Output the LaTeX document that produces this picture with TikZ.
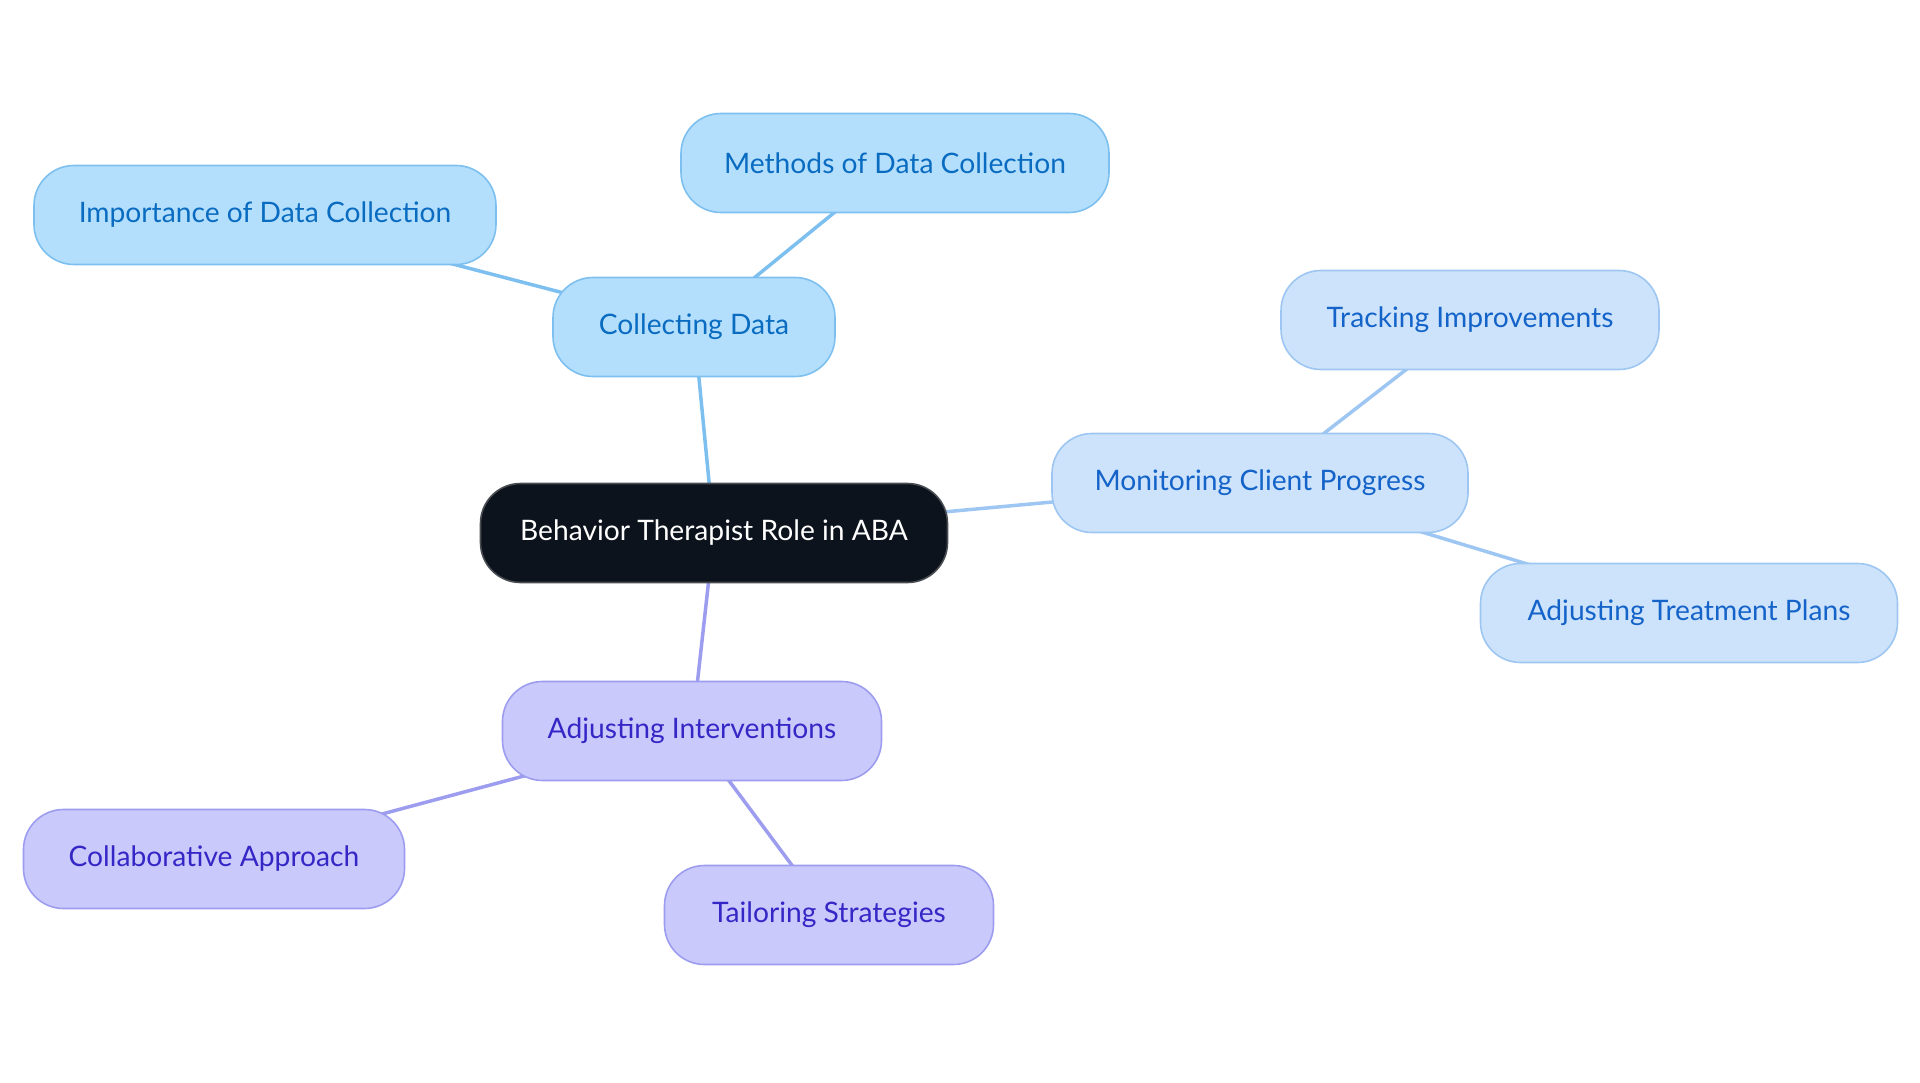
\documentclass[tikz,border=0pt]{standalone}
\usepackage{fontspec}
\setmainfont{Lato}
\usetikzlibrary{backgrounds}
\definecolor{cdfill}{HTML}{B3DFFD}
\definecolor{cddraw}{HTML}{7DC0F0}
\definecolor{cdtext}{HTML}{0A6CC0}
\definecolor{mofill}{HTML}{CDE3FB}
\definecolor{modraw}{HTML}{9EC6F2}
\definecolor{motext}{HTML}{1463C9}
\definecolor{aifill}{HTML}{C9C9FC}
\definecolor{aidraw}{HTML}{9D9DF0}
\definecolor{aitext}{HTML}{3527C6}
\definecolor{rootfill}{HTML}{0D131C}
\definecolor{rootdraw}{HTML}{4A4D52}
\tikzset{
  box/.style={rectangle, rounded corners=40pt, minimum height=99pt, line width=1.6pt,
    inner sep=0pt, font=\fontsize{28.2}{33}\selectfont},
  cdbox/.style={box, fill=cdfill, draw=cddraw, text=cdtext},
  mobox/.style={box, fill=mofill, draw=modraw, text=motext},
  aibox/.style={box, fill=aifill, draw=aidraw, text=aitext},
  rootbox/.style={box, fill=rootfill, draw=rootdraw, text=white},
  cdline/.style={draw=cddraw, line width=3.5pt},
  moline/.style={draw=modraw, line width=3.5pt},
  ailine/.style={draw=aidraw, line width=3.5pt},
}
\begin{document}
\begin{tikzpicture}[x=1pt,y=-1pt]
\useasboundingbox (0,0) rectangle (1920,1083);
\node[rootbox, minimum width=467pt] (root) at (714,533) {Behavior Therapist Role in ABA};
\node[cdbox, minimum width=282pt] (cd) at (694,327) {Collecting Data};
\node[cdbox, minimum width=462pt] (imp) at (265,215) {Importance of Data Collection};
\node[cdbox, minimum width=428pt] (meth) at (895,163) {Methods of Data Collection};
\node[mobox, minimum width=416pt] (mon) at (1260,483) {Monitoring Client Progress};
\node[mobox, minimum width=378pt] (trk) at (1470,320) {Tracking Improvements};
\node[mobox, minimum width=417pt] (atp) at (1689,613) {Adjusting Treatment Plans};
\node[aibox, minimum width=379pt] (ai) at (692,731) {Adjusting Interventions};
\node[aibox, minimum width=381pt] (col) at (214,859) {Collaborative Approach};
\node[aibox, minimum width=329pt] (tai) at (829,915) {Tailoring Strategies};
\begin{scope}[on background layer]
\draw[cdline] (root.center) -- (cd.center);
\draw[cdline] (cd.center) -- (imp.center);
\draw[cdline] (cd.center) -- (meth.center);
\draw[moline] (root.center) -- (mon.center);
\draw[moline] (mon.center) -- (trk.center);
\draw[moline] (mon.center) -- (atp.center);
\draw[ailine] (root.center) -- (ai.center);
\draw[ailine] (ai.center) -- (col.center);
\draw[ailine] (ai.center) -- (tai.center);
\end{scope}
\end{tikzpicture}
\end{document}
